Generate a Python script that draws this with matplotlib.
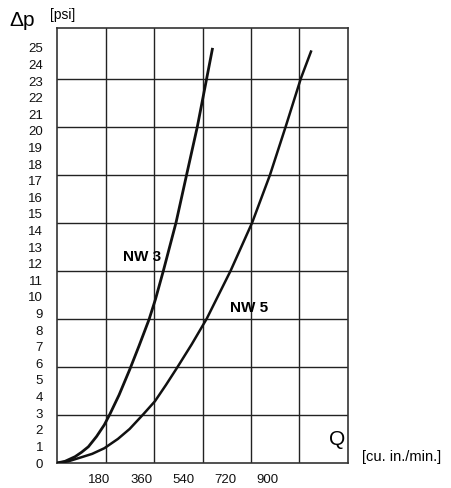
import matplotlib
matplotlib.use("Agg")
import matplotlib.pyplot as plt

plt.rcParams['font.family'] = ['Liberation Sans', 'DejaVu Sans']

# pressure drop curves (Q in cu. in./min, dp in psi)
nw3_q = [0, 34, 77, 105, 134, 169, 202, 226, 265, 311, 350, 393, 420, 454, 508, 553, 599, 639, 663]
nw3_dp = [0, 0.1, 0.38, 0.65, 0.98, 1.6, 2.3, 2.95, 4.1, 5.65, 7.05, 8.65, 9.85, 11.58, 14.48, 17.35, 20.26, 23.17, 24.92]

nw5_q = [0, 48, 105, 150, 202, 260, 310, 368, 418, 465, 513, 575, 639, 741, 833, 909, 976, 1041, 1084]
nw5_dp = [0, 0.1, 0.35, 0.55, 0.89, 1.45, 2.05, 2.93, 3.72, 4.7, 5.75, 7.15, 8.69, 11.58, 14.48, 17.35, 20.26, 23.17, 24.78]

x_ticks = [180, 360, 540, 720, 900]
y_ticks = list(range(0, 26))

# grid is in bar / l/min steps, so it does not line up with the labels
grid_q = [207, 414, 621, 828, 1035]
grid_dp = [2.89, 5.78, 8.67, 11.56, 14.45, 17.34, 20.23, 23.12]

fig = plt.figure(figsize=(4.51, 4.88), dpi=100)
ax = fig.add_axes([57 / 451, 25 / 488, 291 / 451, 435 / 488])

for q in grid_q:
    ax.axvline(q, color='#222222', lw=1.0, zorder=1)
for p in grid_dp:
    ax.axhline(p, color='#222222', lw=1.0, zorder=1)

ax.plot(nw3_q, nw3_dp, color='#111111', lw=2.0, zorder=3)
ax.plot(nw5_q, nw5_dp, color='#111111', lw=1.8, zorder=3)

ax.set_xlim(0, 1242)
ax.set_ylim(0, 26.2)

ax.set_xticks(x_ticks)
ax.set_xticklabels([str(v) for v in x_ticks])
ax.set_yticks(y_ticks)
ax.set_yticklabels([str(v) for v in y_ticks])
ax.tick_params(axis='both', length=0, labelsize=9.5, colors='#111111')
ax.tick_params(axis='y', pad=10)
ax.tick_params(axis='x', pad=8)

for s in ax.spines.values():
    s.set_color('#333333')
    s.set_linewidth(1.2)

ax.text(365, 12.43, "NW 3", fontsize=11, fontweight='bold', ha='center', va='center')
ax.text(819, 9.32, "NW 5", fontsize=11, fontweight='bold', ha='center', va='center')
ax.text(1232, 1.39, "Q", fontsize=15, ha='right', va='center')

fig.text(9 / 451, 1 - 20 / 488, "Δp", fontsize=15, ha='left', va='center')
fig.text(50 / 451, 1 - 15 / 488, "[psi]", fontsize=10, ha='left', va='center')
fig.text(362 / 451, 1 - 457 / 488, "[cu. in./min.]", fontsize=10.5, ha='left', va='center')

fig.savefig("out.png", dpi=100)
